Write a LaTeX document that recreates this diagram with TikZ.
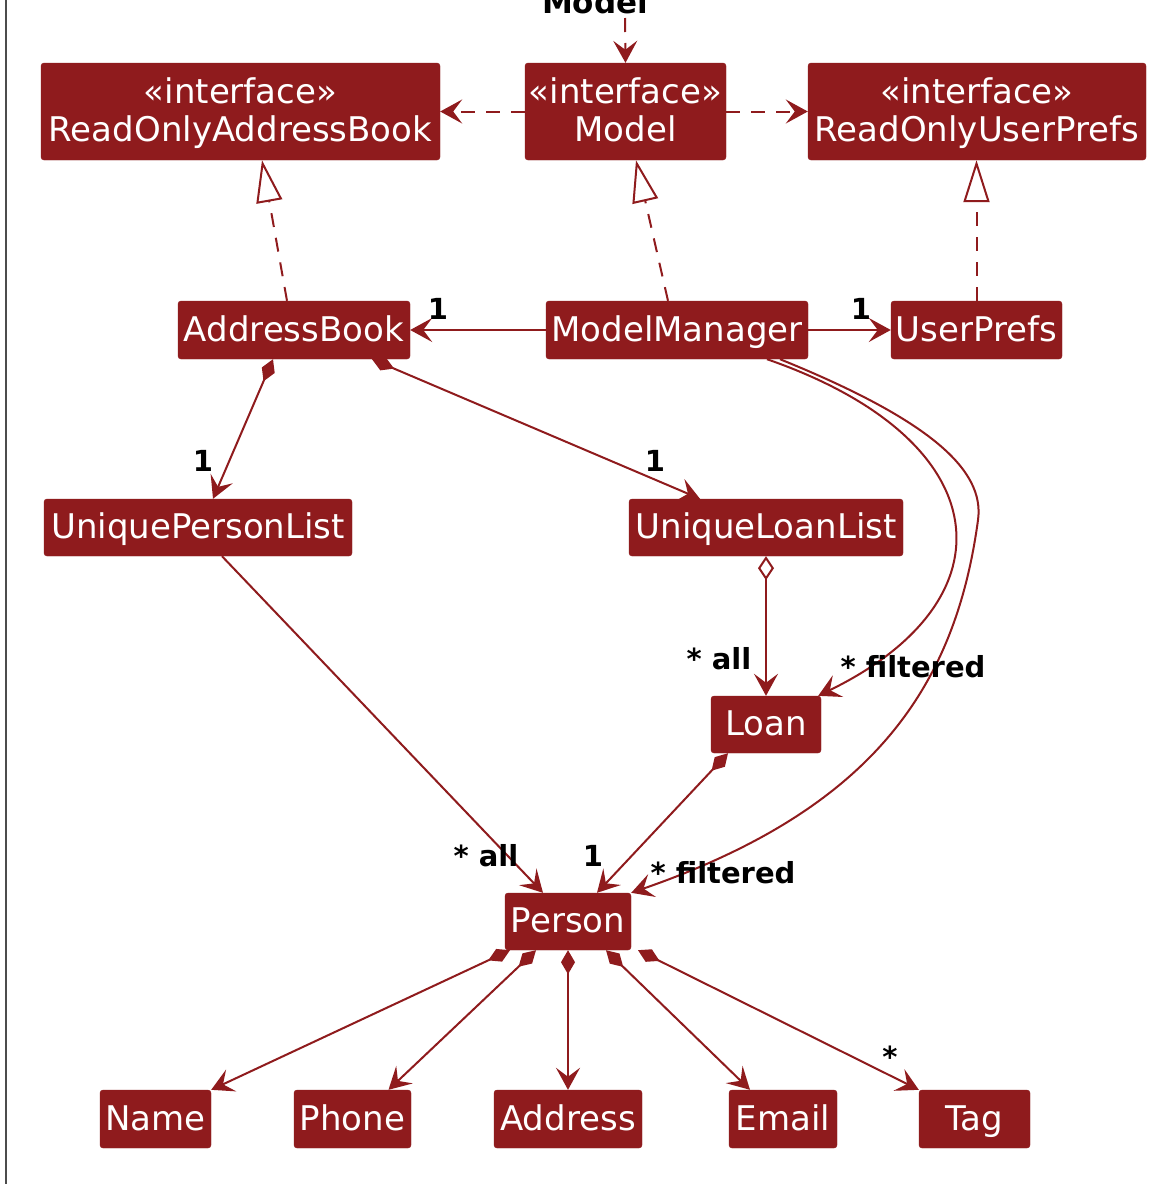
\documentclass[tikz,border=0pt]{standalone}
\usepackage{fontspec}
\setmainfont{DejaVu Sans}
\usetikzlibrary{arrows.meta}
\definecolor{umlred}{RGB}{143,27,29}
\newcommand{\lnph}{\vphantom{Ay}}
\newcommand{\lntop}{\rule{0pt}{29pt}}
\begin{document}
\begin{tikzpicture}[x=1pt,y=-1pt,
  cls/.style={fill=umlred, draw=umlred, rounded corners=3pt, text=white, inner sep=0pt,
    font=\fontsize{34}{38}\selectfont, align=center, minimum height=58pt},
  one/.style={text height=26pt, text depth=4pt},
  lbl/.style={font=\fontsize{29}{32}\selectfont\bfseries, text=black, inner sep=0pt},
  conn/.style={draw=umlred, line width=2pt},
  tipv/.tip={Stealth[length=22pt,width=24pt,inset=9pt]},
  opentip/.style={-tipv},
  dep/.style={conn, dash pattern=on 14pt off 11pt, opentip},
  real/.style={conn, dash pattern=on 14pt off 11pt, -{Triangle[open,length=42pt,width=26pt,fill=white]}},
  assoc/.style={conn, opentip},
  comp/.style={conn, {Diamond[length=24pt,width=14pt]}-tipv},
  aggr/.style={conn, {Diamond[open,length=24pt,width=16pt,fill=white]}-tipv}
]
\useasboundingbox (0,0) rectangle (1170,1184);
\fill[white] (0,0) rectangle (1170,1184);
\draw[line width=2pt, black!70] (6,-5) -- (6,1190);

% nodes
\node[lbl, font=\fontsize{31}{34}\selectfont\bfseries, anchor=base] (title) at (595,13) {Model};
\coordinate (titlesrc) at (625,18);
\node[cls, minimum width=399pt, minimum height=97pt] (roab) at (240.5,111.5) {\lntop\lnph«interface»\\\lnph ReadOnlyAddressBook};
\node[cls, minimum width=201pt, minimum height=97pt] (model) at (625.5,111.5) {\lntop\lnph«interface»\\\lnph Model};
\node[cls, minimum width=338pt, minimum height=97pt] (roup) at (977,111.5) {\lntop\lnph«interface»\\\lnph ReadOnlyUserPrefs};
\node[cls, one, minimum width=232pt] (ab) at (294,330) {AddressBook};
\node[cls, one, minimum width=262pt] (mm) at (677,330) {ModelManager};
\node[cls, one, minimum width=171pt] (up) at (976.5,330) {UserPrefs};
\node[cls, one, minimum width=308pt, minimum height=57pt] (upl) at (198,527.5) {UniquePersonList};
\node[cls, one, minimum width=274pt, minimum height=57pt] (ull) at (766,527.5) {UniqueLoanList};
\node[cls, one, minimum width=110pt, minimum height=57pt] (loan) at (766,724.5) {Loan};
\node[cls, one, minimum width=126pt, minimum height=57pt] (person) at (568,921.5) {Person};
\node[cls, one, minimum width=111pt] (name) at (155.5,1119) {Name};
\node[cls, one, minimum width=117pt] (phone) at (352.5,1119) {Phone};
\node[cls, one, minimum width=148pt] (address) at (568,1119) {Address};
\node[cls, one, minimum width=108pt] (email) at (783,1119) {Email};
\node[cls, one, minimum width=111pt] (tag) at (974.5,1119) {Tag};

% dependencies
\draw[dep] (titlesrc) -- (model.north);
\draw[dep] (model.west) -- (roab.east);
\draw[dep] (model.east) -- (roup.west);

% realizations
\draw[real] ([xshift=-7pt]ab.north) -- ([xshift=21.5pt]roab.south);
\draw[real] ([xshift=-9pt]mm.north) -- ([xshift=10.5pt]model.south);
\draw[real] (up.north) -- (up.north |- roup.south);

% associations
\draw[assoc] (mm.west) -- (ab.east);
\draw[assoc] (mm.east) -- (up.west);
\draw[comp] ([xshift=-21pt]ab.south) -- ([xshift=15pt]upl.north);
\draw[comp] ([xshift=78pt]ab.south) -- ([xshift=-66pt]ull.north);
\draw[aggr] (ull.south) -- (loan.north);
\draw[assoc] ([xshift=90pt]mm.south) .. controls (1000,440) and (1015,600) .. ([xshift=-3pt]loan.north east);
\draw[assoc] ([xshift=103pt]mm.south) .. controls (930,420) and (985,470) .. (978,520)
   .. controls (955,690) and (870,810) .. (person.north east);
\draw[assoc] ([xshift=24pt]upl.south) -- ([xshift=-25pt]person.north);
\draw[comp] ([xshift=-38pt]loan.south) -- ([xshift=29pt]person.north);

\draw[comp] ([xshift=-58pt]person.south) -- (name.north east);
\draw[comp] ([xshift=-32pt]person.south) -- ([xshift=36pt]phone.north);
\draw[comp] (person.south) -- (address.north);
\draw[comp] ([xshift=38pt]person.south) -- ([xshift=-33pt]email.north);
\draw[comp] ([xshift=70pt]person.south) -- (tag.north west);

% labels
\node[lbl] (l1) at (438,309) {1};
\node[lbl] (l2) at (861,309) {1};
\node[lbl] (l3) at (203,461) {1};
\node[lbl] (l4) at (655,461) {1};
\node[lbl] (l5) at (719,659) {* all};
\node[lbl] (l6) at (913,667) {* filtered};
\node[lbl] (l7) at (486,856) {* all};
\node[lbl] (l8) at (593,856) {1};
\node[lbl] (l9) at (723,873) {* filtered};
\node[lbl] (l10) at (890,1057) {*};
\end{tikzpicture}
\end{document}
